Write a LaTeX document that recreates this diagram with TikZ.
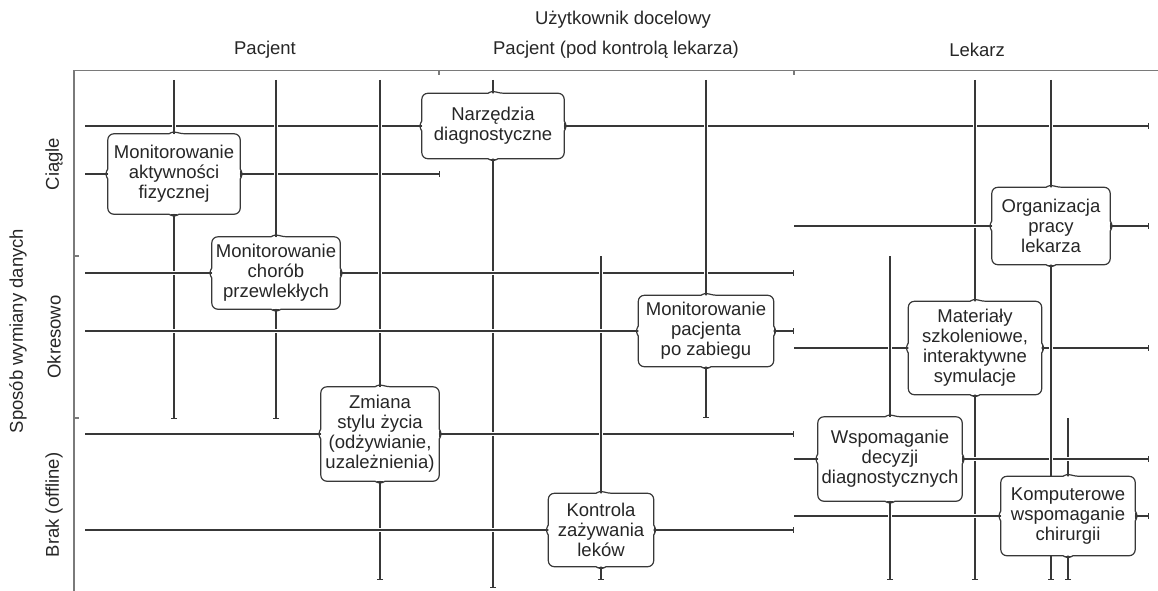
\documentclass[tikz,border=0pt]{standalone}
\usepackage{fontspec}
\setmainfont{Liberation Sans}
\usepackage{tikz}
\usetikzlibrary{arrows.meta,backgrounds}

\definecolor{ink}{HTML}{262626}
\definecolor{wire}{HTML}{383838}
\definecolor{axisgray}{HTML}{7A7A7A}

% box outline: rounded frame with a brace tip in the middle of every side
\newcommand{\bracebox}[1]{%
  \draw[boxline] ([xshift=11pt]#1.north) -- (#1.north east) -- ([yshift=11pt]#1.east)
    .. controls ([yshift=5pt]#1.east) and ([xshift=3pt]#1.east) .. ([xshift=7pt]#1.east)
    .. controls ([xshift=3pt]#1.east) and ([yshift=-5pt]#1.east) .. ([yshift=-11pt]#1.east)
    -- (#1.south east) -- ([xshift=11pt]#1.south)
    .. controls ([xshift=5pt]#1.south) and ([yshift=-3pt]#1.south) .. ([yshift=-7pt]#1.south)
    .. controls ([yshift=-3pt]#1.south) and ([xshift=-5pt]#1.south) .. ([xshift=-11pt]#1.south)
    -- (#1.south west) -- ([yshift=-11pt]#1.west)
    .. controls ([yshift=-5pt]#1.west) and ([xshift=-3pt]#1.west) .. ([xshift=-7pt]#1.west)
    .. controls ([xshift=-3pt]#1.west) and ([yshift=5pt]#1.west) .. ([yshift=11pt]#1.west)
    -- (#1.north west) -- ([xshift=-11pt]#1.north)
    .. controls ([xshift=-5pt]#1.north) and ([yshift=3pt]#1.north) .. ([yshift=7pt]#1.north)
    .. controls ([yshift=3pt]#1.north) and ([xshift=5pt]#1.north) .. ([xshift=11pt]#1.north);}

\begin{document}
\begin{tikzpicture}[x=1pt,y=-1pt,
    font=\fontsize{18.5pt}{20pt}\selectfont, text=ink,
    box/.style={fill=white, inner sep=0pt, align=center},
    boxline/.style={draw=wire, line width=1.2pt, rounded corners=6pt},
    link/.style={draw=wire, line width=1.2pt, {Bar[width=6pt]}-{Bar[width=6pt]},
                 preaction={draw=white, line width=4pt, -}},
    axis/.style={draw=axisgray, line width=1.3pt}]
    \useasboundingbox (0,0) rectangle (1158,591);

    % axes
    \draw[axis] (74,591) -- (74,70.5) -- (1158,70.5);
    \draw[axis] (439,70.5) -- (439,75) (794,70.5) -- (794,75)
                (74,256) -- (79,256) (74,418) -- (79,418);

    \node (t_user)  at (623,20) {Użytkownik docelowy};
    \node (t_pac)   at (265,50) {Pacjent};
    \node (t_pkl)   at (616,50) {Pacjent (pod kontrolą lekarza)};
    \node (t_lek)   at (977,50) {Lekarz};
    \node[rotate=90] (s_mode)   at (18,331) {Sposób wymiany danych};
    \node[rotate=90] (s_ciagle) at (54,164) {Ciągle};
    \node[rotate=90] (s_okres)  at (54,337) {Okresowo};
    \node[rotate=90] (s_brak)   at (54,505) {Brak (offline)};

    % name / x / y / width / height / top / bottom / left / right / text
    \foreach \n/\x/\y/\w/\h/\vt/\vb/\hl/\hr/\txt in {
        narz/493/126/142/65/80/588/85/1149/{Narzędzia\\diagnostyczne},
        akt/174/174/132/80/80/419/85/440/{Monitorowanie\\aktywności\\fizycznej},
        chor/276/273/128/72/80/419/85/794/{Monitorowanie\\chorób\\przewlekłych},
        zmiana/380/434/118/94/80/580/85/794/{Zmiana\\stylu życia\\(odżywianie,\\uzależnienia)},
        kontr/601/530/105/73/256/580/85/794/{Kontrola\\zażywania\\leków},
        pacj/706/331/135/71/80/418/85/794/{Monitorowanie\\pacjenta\\po zabiegu},
        mat/975/348/133/93/80/580/794/1149/{Materiały\\szkoleniowe,\\interaktywne\\symulacje},
        komp/1068/516/134/79/418/580/794/1149/{Komputerowe\\wspomaganie\\chirurgii},
        wsp/890/459/144/84/256/580/794/1149/{Wspomaganie\\decyzji\\diagnostycznych},
        org/1051/226/118/77/80/580/794/1149/{Organizacja\\pracy\\lekarza}}
    {
        \node[box, minimum width=\w pt, minimum height=\h pt] (\n) at (\x,\y) {\txt};
        \coordinate (\n_t) at (\x,\vt);
        \coordinate (\n_b) at (\x,\vb);
        \coordinate (\n_l) at (\hl,\y);
        \coordinate (\n_r) at (\hr,\y);
        \begin{scope}[on background layer]
            \draw[link] (\n_l) -- (\n) -- (\n_r);
            \draw[link] (\n_t) -- (\n) -- (\n_b);
        \end{scope}
        \bracebox{\n}
    }
\end{tikzpicture}
\end{document}
